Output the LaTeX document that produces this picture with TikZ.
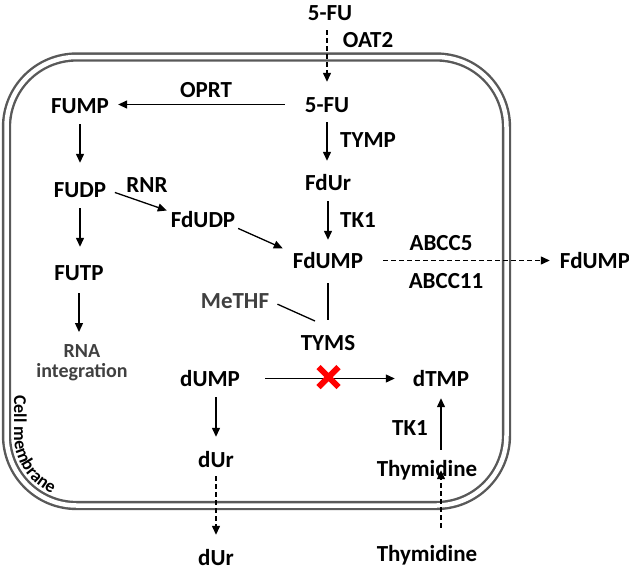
\documentclass[tikz,border=0pt]{standalone}
\usepackage{fontspec}
\setmainfont{Carlito}
\usetikzlibrary{arrows.meta,decorations.text}
\newcommand\membranefont{\fontsize{18}{18}\selectfont\bfseries}

\begin{document}
\begin{tikzpicture}[x=1pt,y=-1pt,
    mol/.style={font=\fontsize{23}{21}\selectfont\bfseries, anchor=base, inner sep=0pt, text height=15pt, text depth=0pt},
    faint/.style={mol, text=black!75},
    flow/.style={-{Triangle[length=9pt,width=8pt]}, line width=1.3pt},
    leak/.style={flow, dash pattern=on 4.5pt off 3.5pt},
    membrane/.style={draw=black!65, line width=2.4pt, double=white, double distance=4.5pt, rounded corners=70pt}]
  \useasboundingbox (0,0) rectangle (629,571);
  \draw[membrane] (6.5,57) rectangle (506.5,505.5);
  \path[decorate, decoration={text along path, text align=left,
      text={|\membranefont|Cell membrane}}]
    (14,395) -- (14,435.5) arc[start angle=180, end angle=90, radius=62.5];

  \node[mol] (fuout) at (330,20) {5-FU};
  \node[mol] (oat) at (368,47) {OAT2};
  \node[mol] (fu) at (327,112) {5-FU};
  \node[mol] (fump) at (80,113) {FUMP};
  \node[mol] (oprt) at (206,97) {OPRT};
  \node[mol] (tymp) at (368,147) {TYMP};
  \node[mol] (fdur) at (328,190) {FdUr};
  \node[mol] (fudp) at (80,197) {FUDP};
  \node[mol] (rnr) at (147,192) {RNR};
  \node[mol] (fdudp) at (203,227) {FdUDP};
  \node[mol] (tkone) at (358,227) {TK1};
  \node[mol] (abccfive) at (441,250) {ABCC5};
  \node[mol] (fdump) at (328,268) {FdUMP};
  \node[mol] (fdumpout) at (595,268) {FdUMP};
  \node[mol] (futp) at (79,280) {FUTP};
  \node[mol] (abcceleven) at (446,288) {ABCC11};
  \node[faint] (methf) at (235,308) {MeTHF};
  \node[mol] (tyms) at (328,350) {TYMS};
  \node[font=\fontsize{20}{20}\selectfont\bfseries, text=black!75, align=center, inner sep=0pt, anchor=north] (rna) at (82,344) {RNA\\integration};
  \node[mol] (dump) at (210,386) {dUMP};
  \node[mol] (dtmp) at (441,386) {dTMP};
  \node[mol] (tkbot) at (410,435) {TK1};
  \node[mol] (durin) at (216,467) {dUr};
  \node[mol] (thyin) at (427,476) {Thymidine};
  \node[mol] (durout) at (216,565) {dUr};
  \node[mol] (thyout) at (427,561) {Thymidine};
  \coordinate (bind) at (315,321);
  \coordinate (block) at (328.5,377);

  \draw[leak, shorten <=10pt, shorten >=15pt] (fuout.south -| fu.north) -- (fu.north);
  \draw[flow, shorten <=20pt, shorten >=9pt] (fu.west) -- (fu.west -| fump.east);
  \draw[flow, shorten <=10pt, shorten >=14pt] (fu.south) -- (fu.south |- fdur.north);
  \draw[flow, shorten <=11pt, shorten >=13pt] (fdur.south) -- (fdump.north);
  \draw[flow, shorten <=11pt, shorten >=19pt] (fump.south) -- (fudp.north);
  \draw[flow, shorten <=11pt, shorten >=18pt] (fudp.south) -- (fudp.south |- futp.north);
  \draw[flow, shorten <=13pt, shorten >=12pt] (futp.south) -- (futp.south |- rna.north);
  \draw[flow, shorten <=9pt, shorten >=4pt] (fudp.east) -- (fdudp.north west);
  \draw[flow, shorten <=3pt, shorten >=11pt] (fdudp.south east) -- (fdump.north west);
  \draw[leak, shorten <=20pt, shorten >=10pt] (fdump.east) -- (fdumpout.west);
  \draw[line width=1.3pt, shorten <=15pt, shorten >=15pt] (fdump.south) -- (tyms.north);
  \draw[line width=1.3pt, shorten <=9pt] (methf.east) -- (bind);
  \draw[flow, shorten <=25pt, shorten >=18pt] (dump.east) -- (dtmp.west);
  \draw[red, line width=6pt] (block) +(-10,-10) -- +(10,10) (block) +(-10,10) -- +(10,-10);
  \draw[flow, shorten <=11pt, shorten >=15pt] (dump.south -| durin.north) -- (durin.north);
  \draw[leak, shorten <=9pt, shorten >=15pt] (durin.south) -- (durout.north);
  \draw[flow, shorten <=11pt, shorten >=12pt] (thyin.north -| dtmp.south) -- (dtmp.south);
  \draw[leak, shorten <=18pt, shorten >=-6pt] (thyout.north -| dtmp.south) -- (thyin.south -| dtmp.south);
\end{tikzpicture}
\end{document}
